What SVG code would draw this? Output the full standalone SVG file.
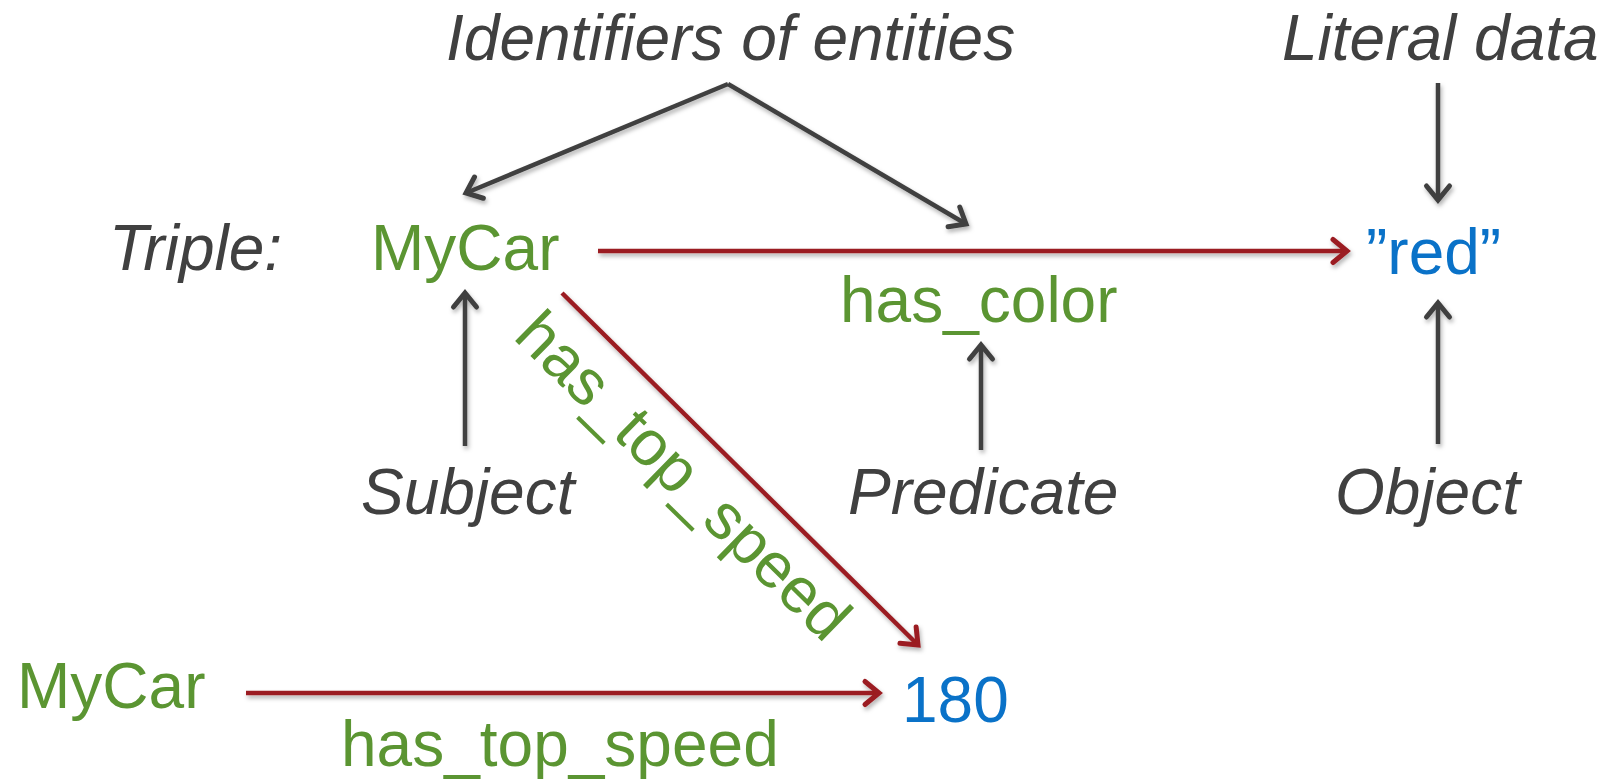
<svg xmlns="http://www.w3.org/2000/svg" width="1603" height="782" viewBox="0 0 1603 782">
  <style>
    text { font-family: "Liberation Sans", Arial, Helvetica, sans-serif; font-size: 64px; }
    .note { fill: #404040; font-style: italic; }
    .res { fill: #5b9532; }
    .lit { fill: #0a72c8; }
    .gray { stroke: #404040; stroke-width: 4.5; fill: none; }
    .red { stroke: #9b1c20; stroke-width: 4.5; fill: none; }
  </style>
  <defs>
    <filter id="shadow" x="-10%" y="-10%" width="120%" height="120%">
      <feDropShadow dx="1.5" dy="3" stdDeviation="2" flood-color="#000" flood-opacity="0.3"/>
    </filter>
    <marker id="ah-gray" markerUnits="userSpaceOnUse" viewBox="-20 -15 25 30" markerWidth="25" markerHeight="30" refX="0" refY="0" orient="auto" overflow="visible">
      <path d="M-14,-11.5 L0,0 L-14,11.5" fill="none" stroke="#404040" stroke-width="5" stroke-linecap="round"/>
    </marker>
    <marker id="ah-red" markerUnits="userSpaceOnUse" viewBox="-20 -15 25 30" markerWidth="25" markerHeight="30" refX="0" refY="0" orient="auto" overflow="visible">
      <path d="M-14,-11.5 L0,0 L-14,11.5" fill="none" stroke="#9b1c20" stroke-width="5" stroke-linecap="round"/>
    </marker>
  </defs>

  <!-- connectors -->
  <g id="connectors" filter="url(#shadow)">
    <line class="gray" x1="728" y1="84" x2="466" y2="193" marker-end="url(#ah-gray)"/>
    <line class="gray" x1="728" y1="84" x2="966" y2="224" marker-end="url(#ah-gray)"/>
    <line class="gray" x1="1438" y1="83" x2="1438" y2="200" marker-end="url(#ah-gray)"/>
    <line class="gray" x1="465" y1="446" x2="465" y2="293" marker-end="url(#ah-gray)"/>
    <line class="gray" x1="981" y1="450" x2="981" y2="345" marker-end="url(#ah-gray)"/>
    <line class="gray" x1="1438" y1="444" x2="1438" y2="303" marker-end="url(#ah-gray)"/>
    <line class="red" x1="598" y1="251" x2="1347" y2="251" marker-end="url(#ah-red)"/>
    <line class="red" x1="562" y1="293" x2="918" y2="645" marker-end="url(#ah-red)"/>
    <line class="red" x1="246" y1="693" x2="879" y2="693" marker-end="url(#ah-red)"/>
  </g>

  <!-- annotation labels -->
  <g id="identifiers"><text class="note" x="446" y="60">Identifiers of entities</text></g>
  <g id="literal-data"><text class="note" x="1282" y="60">Literal data</text></g>
  <g id="triple"><text class="note" x="109" y="270">Triple:</text></g>
  <g id="subject"><text class="note" x="361" y="514">Subject</text></g>
  <g id="predicate"><text class="note" x="848" y="514">Predicate</text></g>
  <g id="object"><text class="note" x="1335" y="514">Object</text></g>

  <!-- triple: MyCar has_color "red" -->
  <g id="mycar-top"><text class="res" x="371" y="270">MyCar</text></g>
  <g id="has-color"><text class="res" x="840" y="322">has_color</text></g>
  <g id="red"><text class="lit" x="1366" y="274">”red”</text></g>

  <!-- diagonal predicate label -->
  <g id="has-top-speed-diag"><text class="res" transform="translate(512 338) rotate(44.4)">has_top_speed</text></g>

  <!-- triple: MyCar has_top_speed 180 -->
  <g id="mycar-bottom"><text class="res" x="17" y="708">MyCar</text></g>
  <g id="has-top-speed"><text class="res" x="341" y="766">has_top_speed</text></g>
  <g id="speed-180"><text class="lit" x="902" y="722">180</text></g>
</svg>
